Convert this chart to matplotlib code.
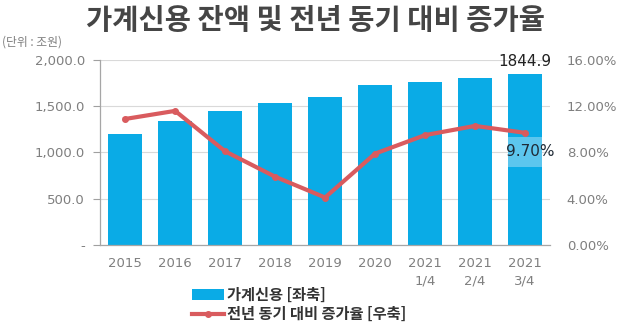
import matplotlib
matplotlib.use("Agg")
import matplotlib.pyplot as plt
from matplotlib.patches import Rectangle
from matplotlib.lines import Line2D
from matplotlib.ticker import FuncFormatter, FixedLocator

plt.rcParams['font.family'] = ['Noto Sans CJK KR', 'DejaVu Sans']
num_font = ['DejaVu Sans', 'Noto Sans CJK KR']

categories = ["2015", "2016", "2017", "2018", "2019", "2020", "2021\n1/4", "2021\n2/4", "2021\n3/4"]
credit = [1203.1, 1342.5, 1450.8, 1536.7, 1600.3, 1726.9, 1765.0, 1805.9, 1844.9]
growth = [10.9, 11.6, 8.1, 5.9, 4.1, 7.9, 9.5, 10.3, 9.7]

bar_color = "#0aabe6"
line_color = "#d95b5e"
tick_gray = "#7f7f7f"

fig = plt.figure(figsize=(6.3, 3.3), dpi=100)
ax = fig.add_axes([0.159, 0.258, 0.714, 0.560])
ax2 = ax.twinx()

x = list(range(len(categories)))
bars = ax.bar(x, credit, width=0.68, color=bar_color, zorder=2)
ax.set_xlim(-0.5, len(categories) - 0.5)
ax.set_ylim(0, 2000)
ax.yaxis.set_major_locator(FixedLocator([0, 500, 1000, 1500, 2000]))
ax.yaxis.set_major_formatter(FuncFormatter(lambda v, p: "-" if v == 0 else f"{v:,.1f}"))
ax.grid(axis="y", color="#d9d9d9", linewidth=0.8, zorder=0)
ax.set_axisbelow(True)
ax.set_xticks(x)
ax.set_xticklabels(categories, color=tick_gray, fontsize=9.5, linespacing=1.45, family=num_font)
ax.tick_params(axis="x", length=0, pad=9)
ax.tick_params(axis="y", colors=tick_gray, labelsize=9.5, length=5, width=0.8, color="#a0a0a0", pad=6)
for lab in ax.get_yticklabels():
    lab.set_family(num_font)
for s in ["top", "right"]:
    ax.spines[s].set_visible(False)
for s in ["left", "bottom"]:
    ax.spines[s].set_color("#a6a6a6")
    ax.spines[s].set_linewidth(0.9)

ax2.plot(x, growth, color=line_color, linewidth=3, marker="o", markersize=4, zorder=3)
ax2.set_ylim(0, 16)
ax2.yaxis.set_major_locator(FixedLocator([0, 4, 8, 12, 16]))
ax2.yaxis.set_major_formatter(FuncFormatter(lambda v, p: f"{v:.2f}%"))
ax2.tick_params(axis="y", colors=tick_gray, labelsize=9.5, length=0, pad=12)
for lab in ax2.get_yticklabels():
    lab.set_family(num_font)
for s in ["top", "right", "left", "bottom"]:
    ax2.spines[s].set_visible(False)

# value label above the latest bar
last = bars[-1]
ax.annotate(f"{credit[-1]:.1f}", (last.get_x() + last.get_width() / 2, credit[-1]),
            xytext=(0, 4), textcoords="offset points", ha="center", va="bottom",
            fontsize=11, color="#222222", family=num_font)

# highlighted growth label on the latest bar
rate = growth[-1]
ax2.add_patch(Rectangle((last.get_x(), rate - 2.95), last.get_width(), 2.6,
                        facecolor="#5cc6ee", edgecolor="none", zorder=4))
ax2.text(last.get_x() + last.get_width() / 2 + 0.1, rate - 1.65, f"{rate:.2f}%",
         ha="center", va="center", fontsize=11, color="#1f2a36", zorder=5, family=num_font)

fig.text(0.5, 0.935, "가계신용 잔액 및 전년 동기 대비 증가율", ha="center", va="center",
         fontsize=20.5, fontweight="bold", color="#454545")
fig.text(0.003, 0.872, "(단위 : 조원)", ha="left", va="center", fontsize=8.5, color="#7f7f7f")

handles = [Rectangle((0, 0), 1, 1, facecolor=bar_color, edgecolor="none"),
           Line2D([0], [0], color=line_color, linewidth=3, marker="o", markersize=4)]
leg = fig.legend(handles, ["가계신용 [좌축]", "전년 동기 대비 증가율 [우축]"],
                 loc="upper left", bbox_to_anchor=(0.305, 0.13), frameon=False,
                 fontsize=11, handlelength=2.1, handletextpad=0.15, labelspacing=0.2,
                 borderpad=0.0, borderaxespad=0.0)
for t in leg.get_texts():
    t.set_fontweight("bold")
    t.set_color("#333333")

fig.savefig("out.png", dpi=100)
